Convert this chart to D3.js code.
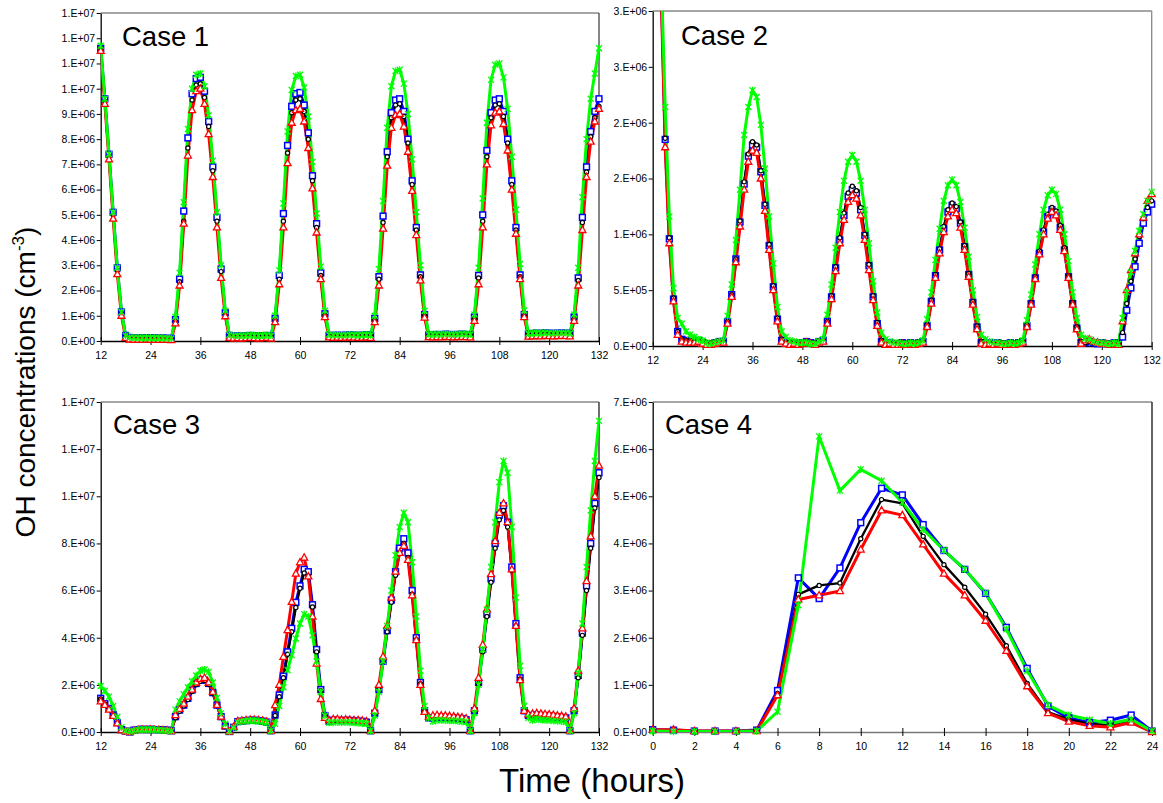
<!DOCTYPE html>
<html><head><meta charset="utf-8">
<script src="https://cdn.jsdelivr.net/npm/d3@7"></script>
<style>
body{margin:0;background:#fff;}
svg{display:block;font-family:"Liberation Sans",Arial,Helvetica,sans-serif;}
</style>
</head><body>
<svg id="chart" width="1163" height="803"></svg>
<script>
// ---------- DATA (OH concentration in units of 1e6 molecules cm^-3) ----------
const multiDayHours = d3.range(12, 133);          // hourly, 12 .. 132
const oneDayHours = d3.range(0, 25);              // hourly, 0 .. 24
const multiDayXTicks = [12,24,36,48,60,72,84,96,108,120,132];
const oneDayXTicks = [0,2,4,6,8,10,12,14,16,18,20,22,24];

const case1YTicks = [0,1,2,3,4,5,6,7,8,9,10,11,12,13];
const case1YLabels = ["0.E+00","1.E+06","2.E+06","3.E+06","4.E+06","5.E+06","6.E+06","7.E+06","8.E+06","9.E+06","1.E+07","1.E+07","1.E+07","1.E+07"];
const case2YTicks = [0,0.5,1,1.5,2,2.5,3];
const case2YLabels = ["0.E+00","5.E+05","1.E+06","2.E+06","2.E+06","3.E+06","3.E+06"];
const case3YTicks = [0,2,4,6,8,10,12,14];
const case3YLabels = ["0.E+00","2.E+06","4.E+06","6.E+06","8.E+06","1.E+07","1.E+07","1.E+07"];
const case4YTicks = [0,1,2,3,4,5,6,7];
const case4YLabels = ["0.E+00","1.E+06","2.E+06","3.E+06","4.E+06","5.E+06","6.E+06","7.E+06"];

const case1Blue = [11.6,9.6,7.4,5.1,2.9,1.15,0.22,
 0.14,0.13,0.12,0.12,0.13,0.12,0.12,0.11,0.12,0.11,0.10,
 0.85,2.45,5.15,8.05,9.8,10.4,10.45,9.9,8.7,6.9,4.9,2.85,1.12,0.22,
 0.20,0.21,0.20,0.21,0.22,0.21,0.20,0.21,0.22,0.20,
 0.9,2.6,5.05,7.75,9.3,9.8,9.85,9.35,8.25,6.55,4.65,2.7,1.08,0.22,
 0.22,0.23,0.22,0.23,0.24,0.23,0.22,0.23,0.24,0.22,
 0.9,2.55,4.95,7.5,9.05,9.55,9.6,9.1,8.0,6.35,4.5,2.62,1.05,0.24,
 0.25,0.26,0.25,0.27,0.26,0.25,0.26,0.27,0.26,0.25,
 0.95,2.6,5.0,7.55,9.05,9.55,9.6,9.1,8.0,6.35,4.5,2.62,1.05,0.27,
 0.30,0.31,0.30,0.32,0.31,0.30,0.31,0.32,0.31,0.30,
 0.95,2.5,4.9,6.9,8.3,9.1,9.6];
const case1Black = [11.6,9.5,7.3,5.0,2.8,1.1,0.2,
 0.12,0.12,0.11,0.11,0.12,0.11,0.11,0.10,0.11,0.10,0.09,
 0.8,2.35,4.75,7.65,9.55,10.15,10.2,9.65,8.5,6.75,4.75,2.75,1.05,0.2,
 0.19,0.2,0.19,0.2,0.21,0.2,0.19,0.2,0.21,0.19,
 0.85,2.45,4.75,7.45,9.05,9.55,9.6,9.1,8.0,6.35,4.5,2.6,1.02,0.2,
 0.21,0.22,0.21,0.22,0.23,0.22,0.21,0.22,0.23,0.21,
 0.85,2.45,4.7,7.3,8.85,9.35,9.4,8.9,7.85,6.2,4.4,2.55,1.0,0.22,
 0.24,0.25,0.24,0.26,0.25,0.24,0.25,0.26,0.25,0.24,
 0.9,2.5,4.75,7.3,8.85,9.35,9.4,8.9,7.85,6.2,4.4,2.55,1.0,0.25,
 0.29,0.3,0.29,0.31,0.3,0.29,0.3,0.31,0.3,0.29,
 0.9,2.4,4.7,6.7,8.1,8.85,9.3];
const case1Red = [11.5,9.4,7.2,4.85,2.65,1.0,0.12,
 0.06,0.05,0.05,0.05,0.06,0.05,0.05,0.05,0.05,0.05,0.04,
 0.7,2.2,4.65,7.35,9.15,9.9,10.0,9.4,8.2,6.5,4.5,2.5,0.98,0.12,
 0.1,0.11,0.1,0.11,0.12,0.11,0.1,0.11,0.12,0.1,
 0.75,2.25,4.5,7.05,8.65,9.15,9.2,8.7,7.65,6.05,4.3,2.45,0.95,0.14,
 0.12,0.13,0.12,0.13,0.14,0.13,0.12,0.13,0.14,0.12,
 0.75,2.2,4.45,6.95,8.45,8.95,9.0,8.5,7.5,5.95,4.2,2.4,0.93,0.15,
 0.14,0.15,0.14,0.16,0.15,0.14,0.15,0.16,0.15,0.14,
 0.8,2.25,4.5,7.0,8.55,9.05,9.1,8.6,7.55,6.0,4.25,2.45,0.95,0.17,
 0.18,0.19,0.18,0.2,0.19,0.18,0.19,0.2,0.19,0.18,
 0.8,2.2,4.4,6.5,7.9,8.7,9.2];
const case1Green = [11.7,9.6,7.4,5.1,2.9,1.15,0.22,
 0.14,0.13,0.13,0.12,0.13,0.12,0.12,0.12,0.12,0.11,0.10,
 0.95,2.7,5.5,8.4,10.0,10.55,10.6,10.1,8.95,7.15,5.1,3.0,1.2,0.25,
 0.21,0.22,0.21,0.22,0.23,0.22,0.21,0.22,0.23,0.21,
 1.0,2.8,5.45,8.3,9.95,10.5,10.55,10.05,8.9,7.1,5.05,2.95,1.2,0.26,
 0.23,0.24,0.23,0.24,0.25,0.24,0.23,0.24,0.25,0.23,
 1.0,2.85,5.55,8.45,10.1,10.7,10.75,10.2,9.0,7.2,5.1,3.0,1.2,0.28,
 0.26,0.27,0.26,0.28,0.27,0.26,0.27,0.28,0.27,0.26,
 1.05,2.9,5.65,8.65,10.35,10.95,11.0,10.45,9.2,7.3,5.2,3.05,1.22,0.3,
 0.31,0.32,0.31,0.33,0.32,0.31,0.32,0.33,0.32,0.31,
 1.05,2.9,5.7,8.0,9.6,10.6,11.6];

const case2Blue = [6.0,4.8,3.3,1.85,0.96,0.42,0.13,
 0.06,0.05,0.04,0.04,0.05,0.03,0.02,0.02,0.03,0.04,
 0.04,0.22,0.46,0.78,1.11,1.45,1.70,1.80,1.78,1.56,1.26,0.90,0.53,0.24,0.05,
 0.03,0.02,0.03,0.02,0.03,0.04,0.03,0.02,0.04,
 0.05,0.22,0.44,0.70,0.95,1.17,1.34,1.40,1.37,1.22,0.99,0.72,0.44,0.20,0.04,
 0.02,0.03,0.02,0.02,0.03,0.02,0.03,0.02,0.03,
 0.04,0.18,0.40,0.63,0.86,1.05,1.20,1.26,1.23,1.10,0.89,0.64,0.39,0.17,0.03,
 0.02,0.03,0.02,0.03,0.02,0.02,0.03,0.02,0.03,
 0.04,0.18,0.38,0.61,0.83,1.02,1.16,1.22,1.19,1.06,0.86,0.62,0.38,0.16,0.03,
 0.03,0.04,0.03,0.02,0.03,0.02,0.02,0.03,0.02,
 0.08,0.32,0.52,0.71,0.92,1.10,1.20,1.27];
const case2Black = [6.0,4.8,3.3,1.86,0.97,0.43,0.13,
 0.06,0.05,0.05,0.04,0.05,0.04,0.03,0.03,0.03,0.04,
 0.04,0.22,0.46,0.78,1.12,1.47,1.72,1.83,1.80,1.57,1.27,0.91,0.54,0.25,0.06,
 0.03,0.03,0.03,0.02,0.03,0.04,0.03,0.03,0.04,
 0.05,0.22,0.45,0.71,0.97,1.19,1.37,1.43,1.39,1.24,1.00,0.73,0.45,0.21,0.05,
 0.03,0.03,0.02,0.03,0.03,0.02,0.03,0.03,0.03,
 0.04,0.19,0.41,0.64,0.87,1.07,1.22,1.28,1.25,1.11,0.90,0.65,0.40,0.18,0.04,
 0.03,0.03,0.02,0.03,0.03,0.02,0.03,0.03,0.03,
 0.04,0.19,0.39,0.62,0.85,1.04,1.18,1.24,1.21,1.08,0.88,0.63,0.39,0.17,0.04,
 0.03,0.04,0.03,0.03,0.03,0.02,0.02,0.03,0.03,
 0.12,0.38,0.58,0.78,0.98,1.14,1.24,1.30];
const case2Red = [5.9,4.7,3.2,1.78,0.92,0.40,0.10,
 0.04,0.03,0.03,0.03,0.04,0.02,0.01,0.01,0.02,0.03,
 0.03,0.20,0.44,0.75,1.07,1.40,1.65,1.75,1.73,1.50,1.21,0.86,0.50,0.22,0.04,
 0.02,0.01,0.02,0.01,0.02,0.03,0.02,0.01,0.03,
 0.04,0.20,0.42,0.67,0.92,1.13,1.29,1.35,1.32,1.17,0.95,0.68,0.41,0.18,0.03,
 0.01,0.02,0.01,0.01,0.02,0.01,0.02,0.01,0.02,
 0.03,0.17,0.38,0.61,0.83,1.02,1.16,1.22,1.19,1.06,0.86,0.62,0.37,0.15,0.02,
 0.01,0.02,0.01,0.02,0.01,0.01,0.02,0.01,0.02,
 0.03,0.17,0.37,0.60,0.82,1.00,1.14,1.20,1.17,1.04,0.85,0.61,0.37,0.15,0.02,
 0.05,0.06,0.04,0.03,0.02,0.02,0.01,0.02,0.01,
 0.22,0.50,0.68,0.83,1.00,1.15,1.30,1.36];
const case2Green = [6.1,4.9,3.4,2.14,1.16,0.52,0.25,
 0.20,0.13,0.10,0.08,0.06,0.05,0.03,0.02,0.03,0.04,
 0.05,0.27,0.55,0.95,1.40,1.89,2.14,2.29,2.23,1.98,1.59,1.16,0.74,0.35,0.13,
 0.08,0.05,0.04,0.03,0.03,0.03,0.02,0.02,0.04,
 0.06,0.28,0.55,0.88,1.20,1.48,1.65,1.71,1.65,1.48,1.22,0.92,0.58,0.30,0.12,
 0.06,0.04,0.03,0.03,0.02,0.02,0.03,0.02,0.03,
 0.05,0.24,0.48,0.77,1.05,1.30,1.44,1.49,1.44,1.29,1.06,0.80,0.50,0.26,0.10,
 0.06,0.04,0.03,0.03,0.02,0.02,0.03,0.02,0.03,
 0.05,0.23,0.46,0.73,1.00,1.22,1.35,1.40,1.36,1.22,1.00,0.76,0.48,0.25,0.10,
 0.07,0.06,0.04,0.03,0.03,0.02,0.02,0.03,0.02,
 0.25,0.48,0.66,0.85,1.03,1.18,1.30,1.38];

const case3Blue = [1.43,1.20,1.00,0.72,0.40,0.10,0.04,
 0.00,0.08,0.10,0.12,0.10,0.12,0.10,0.10,0.09,0.08,0.05,
 0.65,0.93,1.14,1.43,1.78,2.06,2.20,2.20,2.06,1.67,1.14,0.65,0.25,0.02,
 0.20,0.44,0.46,0.48,0.50,0.50,0.48,0.46,0.42,
 0.05,0.72,1.57,2.37,3.40,4.40,5.50,6.20,6.90,6.80,5.40,3.50,1.80,0.70,0.45,
 0.50,0.50,0.48,0.50,0.49,0.47,0.46,0.45,0.42,0.05,
 0.80,1.80,3.00,4.30,5.60,6.80,7.80,8.20,7.60,6.00,4.00,2.10,0.90,0.60,
 0.60,0.62,0.63,0.62,0.60,0.60,0.58,0.56,0.52,0.05,
 0.90,2.10,3.50,5.00,6.50,8.00,9.20,9.60,8.90,7.00,4.60,2.30,0.90,0.70,
 0.70,0.72,0.70,0.70,0.68,0.66,0.64,0.62,0.60,0.05,
 0.90,2.40,4.20,6.20,8.00,9.70,11.00];
const case3Black = [1.40,1.18,0.98,0.70,0.38,0.09,0.04,
 0.00,0.07,0.10,0.11,0.10,0.11,0.10,0.09,0.08,0.07,0.05,
 0.60,0.88,1.10,1.38,1.72,2.00,2.15,2.18,2.02,1.63,1.12,0.63,0.24,0.02,
 0.19,0.43,0.45,0.47,0.49,0.49,0.47,0.45,0.41,
 0.05,0.70,1.50,2.30,3.30,4.25,5.28,6.10,6.75,6.60,5.30,3.40,1.75,0.70,0.45,
 0.49,0.49,0.47,0.49,0.48,0.46,0.45,0.44,0.41,0.05,
 0.80,1.80,3.00,4.25,5.50,6.65,7.60,8.00,7.40,5.85,3.90,2.05,0.88,0.60,
 0.58,0.60,0.61,0.60,0.58,0.58,0.56,0.54,0.50,0.05,
 0.90,2.05,3.40,4.90,6.35,7.80,9.00,9.40,8.70,6.85,4.50,2.25,0.90,0.70,
 0.68,0.70,0.68,0.68,0.66,0.64,0.62,0.60,0.58,0.05,
 0.90,2.30,4.10,6.00,7.80,9.50,10.80];
const case3Red = [1.30,1.15,0.95,0.68,0.37,0.08,0.03,
 0.00,0.06,0.09,0.10,0.09,0.10,0.09,0.09,0.08,0.07,0.04,
 0.72,0.98,1.20,1.50,1.80,2.10,2.25,2.30,2.10,1.70,1.15,0.65,0.25,0.02,
 0.22,0.46,0.48,0.50,0.52,0.52,0.50,0.48,0.44,
 0.05,1.14,2.00,3.19,4.32,5.52,6.72,7.20,7.40,6.60,4.90,2.90,1.40,0.60,0.50,
 0.55,0.55,0.52,0.53,0.52,0.50,0.50,0.48,0.45,0.05,
 0.90,2.00,3.20,4.50,5.70,6.80,7.60,7.90,7.30,5.80,3.90,2.00,0.85,0.65,
 0.70,0.72,0.70,0.70,0.68,0.66,0.64,0.62,0.58,0.05,
 1.00,2.30,3.70,5.20,6.70,8.10,9.30,9.70,8.90,6.90,4.50,2.20,0.90,0.75,
 0.78,0.80,0.78,0.76,0.75,0.73,0.70,0.68,0.65,0.05,
 1.00,2.60,4.40,6.40,8.30,10.00,11.30];
const case3Green = [1.95,1.75,1.50,1.10,0.65,0.20,0.05,
 0.02,0.06,0.10,0.10,0.10,0.10,0.10,0.08,0.07,0.06,0.04,
 0.95,1.30,1.60,1.90,2.15,2.40,2.60,2.65,2.55,2.10,1.45,0.80,0.35,0.03,
 0.18,0.42,0.45,0.47,0.48,0.48,0.46,0.44,0.40,
 0.05,0.35,1.10,1.90,2.63,3.26,3.97,4.60,5.00,4.90,4.10,3.00,1.70,0.70,0.40,
 0.40,0.42,0.40,0.42,0.40,0.40,0.38,0.37,0.35,0.05,
 0.70,1.70,3.00,4.50,6.00,7.50,8.70,9.30,8.90,7.20,4.90,2.60,1.10,0.60,
 0.45,0.50,0.50,0.50,0.48,0.48,0.46,0.44,0.42,0.05,
 0.80,2.00,3.50,5.20,7.00,8.90,10.60,11.50,11.00,8.70,5.70,2.80,1.10,0.60,
 0.50,0.55,0.52,0.50,0.50,0.48,0.46,0.45,0.42,0.05,
 0.80,2.50,4.60,7.00,9.40,11.50,13.20];

const case4Blue  = [0.05,0.04,0.02,0.02,0.02,0.04,0.88,3.27,2.83,3.48,4.44,5.17,5.03,4.40,3.85,3.45,2.94,2.22,1.35,0.55,0.30,0.20,0.25,0.36,0.02];
const case4Black = [0.03,0.03,0.02,0.02,0.02,0.03,0.82,2.92,3.11,3.16,4.10,4.93,4.85,4.15,3.55,3.07,2.50,1.83,1.03,0.42,0.27,0.17,0.15,0.25,0.01];
const case4Red   = [0.05,0.05,0.02,0.02,0.02,0.02,0.78,2.81,2.90,2.99,3.87,4.70,4.60,3.98,3.36,2.90,2.36,1.72,0.97,0.40,0.22,0.13,0.10,0.20,0.00];
const case4Green = [0.02,0.01,0.01,0.01,0.01,0.02,0.43,2.69,6.27,5.12,5.57,5.33,4.87,4.30,3.85,3.45,2.95,2.18,1.30,0.57,0.36,0.26,0.18,0.27,0.02];

// ---------- STYLE ----------
const seriesStyle = {
  blue:  {color:"#0000ff", width:3,   marker:"square"},
  black: {color:"#000000", width:2.3, marker:"circle"},
  red:   {color:"#ff0000", width:3,   marker:"triangle"},
  green: {color:"#00ff00", width:3,   marker:"star"}
};
const drawOrder = ["blue","black","red","green"];

const panels = [
  {id:"p1", label:"Case 1", left:100.7, right:599, top:13, bottom:341, x:multiDayHours, xDomain:[12,132], xTicks:multiDayXTicks,
   yDomain:[0,13], yTicks:case1YTicks, yLabels:case1YLabels, labelPos:[122,46],
   data:{blue:case1Blue, black:case1Black, red:case1Red, green:case1Green}, rightColor:"#444", bottomColor:"#000"},
  {id:"p2", label:"Case 2", left:652.7, right:1151.7, top:11, bottom:346, x:multiDayHours, xDomain:[12,132], xTicks:multiDayXTicks,
   yDomain:[0,3], yTicks:case2YTicks, yLabels:case2YLabels, labelPos:[681,45],
   data:{blue:case2Blue, black:case2Black, red:case2Red, green:case2Green}, rightColor:"#888", bottomColor:"#000"},
  {id:"p3", label:"Case 3", left:100.7, right:599, top:402, bottom:732, x:multiDayHours, xDomain:[12,132], xTicks:multiDayXTicks,
   yDomain:[0,14], yTicks:case3YTicks, yLabels:case3YLabels, labelPos:[113,434],
   data:{blue:case3Blue, black:case3Black, red:case3Red, green:case3Green}, rightColor:"#222", bottomColor:"#000"},
  {id:"p4", label:"Case 4", left:652.7, right:1152, top:402, bottom:732, x:oneDayHours, xDomain:[0,24], xTicks:oneDayXTicks,
   yDomain:[0,7], yTicks:case4YTicks, yLabels:case4YLabels, labelPos:[665,434],
   data:{blue:case4Blue, black:case4Black, red:case4Red, green:case4Green}, rightColor:"#111", bottomColor:"#777"}
];

const svg = d3.select("#chart");
svg.append("rect").attr("width",1163).attr("height",803).attr("fill","#fff");

function markerPath(type){
  if(type==="triangle") return "M0,-3.8L3.5,2.5L-3.5,2.5Z";
  if(type==="star") return "M-3,-3L3,3M-3,3L3,-3M0,-3.6L0,3.6";
  return null;
}

panels.forEach(p => {
  const xs = d3.scaleLinear().domain(p.xDomain).range([p.left, p.right]);
  const ys = d3.scaleLinear().domain(p.yDomain).range([p.bottom, p.top]);
  const g = svg.append("g");

  svg.append("clipPath").attr("id","clip-"+p.id)
    .append("rect").attr("x",p.left).attr("y",p.top).attr("width",p.right-p.left).attr("height",p.bottom-p.top);

  // frame: top and right
  g.append("line").attr("x1",p.left).attr("x2",p.right).attr("y1",p.top).attr("y2",p.top)
    .attr("stroke","#888").attr("stroke-width",1.5);
  g.append("line").attr("x1",p.right).attr("x2",p.right).attr("y1",p.top).attr("y2",p.bottom)
    .attr("stroke",p.rightColor).attr("stroke-width",1.3);

  // y axis
  const yAxis = d3.axisLeft(ys).tickValues(p.yTicks)
    .tickFormat((d,i)=>p.yLabels[i]).tickSizeInner(4).tickSizeOuter(0).tickPadding(1.5);
  const ya = g.append("g").attr("transform",`translate(${p.left},0)`).call(yAxis);
  ya.select(".domain").attr("stroke","#000").attr("stroke-width",1.3);
  ya.selectAll(".tick line").attr("stroke","#000").attr("stroke-width",1);
  ya.selectAll(".tick text").attr("font-size","10.5px").attr("fill","#000")
    .attr("font-family",'"Liberation Sans",Arial,sans-serif');

  // x axis
  const xAxis = d3.axisBottom(xs).tickValues(p.xTicks).tickFormat(d=>String(d))
    .tickSizeInner(4).tickSizeOuter(0).tickPadding(7);
  const xa = g.append("g").attr("transform",`translate(0,${p.bottom})`).call(xAxis);
  xa.select(".domain").attr("stroke",p.bottomColor).attr("stroke-width",1.5);
  xa.selectAll(".tick line").attr("y1",-4).attr("y2",4).attr("stroke","#000").attr("stroke-width",1);
  xa.selectAll(".tick text").attr("font-size","10.5px").attr("fill","#000")
    .attr("font-family",'"Liberation Sans",Arial,sans-serif');

  // series: all lines first, then markers
  const plot = g.append("g").attr("clip-path",`url(#clip-${p.id})`);
  const line = d3.line().x(d=>xs(d[0])).y(d=>ys(d[1]));
  const ptsOf = key => p.data[key].map((v,i)=>[p.x[i], v]);
  drawOrder.forEach(key => {
    const st = seriesStyle[key];
    plot.append("path").datum(ptsOf(key)).attr("d",line).attr("fill","none")
      .attr("stroke",st.color).attr("stroke-width",st.width).attr("stroke-linejoin","round");
  });
  const markers = g.append("g");
  drawOrder.forEach(key => {
    const st = seriesStyle[key];
    const mg = markers.append("g");
    ptsOf(key).forEach(d => {
      const cx = xs(d[0]), cy = ys(d[1]);
      if(cy < p.top - 2) return;
      if(st.marker==="square"){
        mg.append("rect").attr("x",cx-2.9).attr("y",cy-2.9).attr("width",5.8).attr("height",5.8)
          .attr("fill","#fff").attr("stroke",st.color).attr("stroke-width",1.5);
      } else if(st.marker==="circle"){
        mg.append("circle").attr("cx",cx).attr("cy",cy).attr("r",2.1)
          .attr("fill","#fff").attr("stroke",st.color).attr("stroke-width",1.2);
      } else {
        mg.append("path").attr("transform",`translate(${cx},${cy})`).attr("d",markerPath(st.marker))
          .attr("fill", st.marker==="triangle" ? "#fff" : "none")
          .attr("stroke",st.color).attr("stroke-width",1.3);
      }
    });
  });

  // panel label
  g.append("text").attr("x",p.labelPos[0]).attr("y",p.labelPos[1]).text(p.label)
    .attr("font-size","27.5px").attr("fill","#000");
});

// axis titles
const yt = svg.append("text").attr("transform","translate(35,382) rotate(-90)")
  .attr("text-anchor","middle").attr("font-size","28px").attr("fill","#000");
yt.append("tspan").text("OH concentrations (cm");
yt.append("tspan").text("-3").attr("font-size","17px").attr("dy","-11");
yt.append("tspan").text(")").attr("dy","11");

svg.append("text").attr("x",592).attr("y",792).attr("text-anchor","middle")
  .attr("font-size","33px").attr("fill","#000").text("Time (hours)");
</script>
</body></html>
